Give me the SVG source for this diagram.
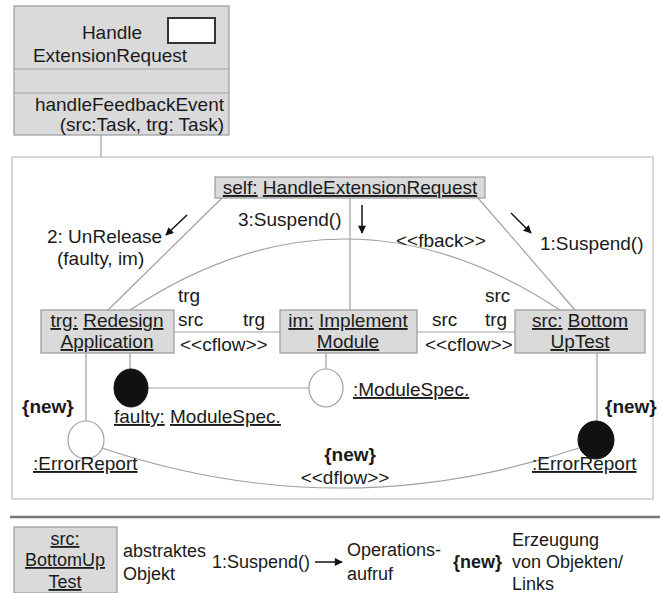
<svg xmlns="http://www.w3.org/2000/svg" width="660" height="593" viewBox="0 0 660 593">
  <style>
    text { font-family: "Liberation Sans", Arial, sans-serif; font-size: 19px; fill: #1a1a1a; }
    .b { font-weight: bold; }
    .u { text-decoration: underline; }
    .mid { text-anchor: middle; }
    .end { text-anchor: end; }
    .sm { font-size: 18px; }
    .box { fill: #dadada; stroke: #9a9a9a; stroke-width: 1.2; }
    .ln { fill: none; stroke: #a0a0a0; stroke-width: 1.2; }
    .msg { fill: none; stroke: #111; stroke-width: 1.5; marker-end: url(#head); }
    .open { fill: #fff; stroke: #a0a0a0; stroke-width: 1.2; }
    .solid { fill: #111; stroke: #111; stroke-width: 1; }
  </style>
  <defs>
    <marker id="head" viewBox="0 0 10 10" refX="9" refY="5" markerWidth="11" markerHeight="8" markerUnits="userSpaceOnUse" orient="auto">
      <path d="M0,0 L10,5 L0,10 Z" fill="#111"/>
    </marker>
  </defs>

  <rect width="660" height="593" fill="#fff"/>

  <!-- class box -->
  <g id="class-handle-extension-request">
    <rect class="box" x="14" y="6" width="215" height="129"/>
    <line class="ln" x1="14" y1="69" x2="229" y2="69"/>
    <line class="ln" x1="14" y1="93" x2="229" y2="93"/>
    <rect x="168" y="18" width="47" height="25" fill="#fff" stroke="#333" stroke-width="2"/>
    <text class="mid" x="112" y="39">Handle</text>
    <text class="mid" x="110" y="62">ExtensionRequest</text>
    <text class="end" x="224" y="111">handleFeedbackEvent</text>
    <text class="end" x="224" y="131">(src:Task, trg: Task)</text>
  </g>

  <!-- collaboration frame -->
  <rect id="frame" x="12" y="157" width="641" height="342" fill="none" stroke="#bdbdbd" stroke-width="1.2"/>

  <g id="connectors">
    <line class="ln" x1="101" y1="135" x2="101" y2="157"/>
    <line class="ln" x1="222" y1="198" x2="108" y2="310"/>
    <line class="ln" x1="350" y1="198" x2="350" y2="310"/>
    <line class="ln" x1="478" y1="198" x2="575" y2="310"/>
    <path class="ln" d="M130,310 Q345,168 560,310"/>
    <line class="ln" x1="174" y1="332" x2="280" y2="332"/>
    <line class="ln" x1="417" y1="332" x2="515" y2="332"/>
    <line class="ln" x1="86" y1="353" x2="86" y2="421"/>
    <line class="ln" x1="130" y1="353" x2="130" y2="369"/>
    <line class="ln" x1="148" y1="388" x2="309" y2="388"/>
    <line class="ln" x1="326" y1="353" x2="326" y2="369"/>
    <line class="ln" x1="597" y1="353" x2="597" y2="421"/>
    <path class="ln" d="M102,448 Q340,528 579,448"/>
    <!-- message arrows -->
    <line class="msg" x1="187" y1="215" x2="166" y2="235"/>
    <line class="msg" x1="362" y1="205" x2="362" y2="233"/>
    <line class="msg" x1="511" y1="213" x2="531" y2="233"/>
  </g>

  <g id="labels">
    <text x="47" y="243">2: UnRelease</text>
    <text x="57" y="265">(faulty, im)</text>
    <text x="238" y="226">3:Suspend()</text>
    <text x="396" y="247">&lt;&lt;fback&gt;&gt;</text>
    <text x="540" y="250">1:Suspend()</text>
    <text x="178" y="302">trg</text>
    <text x="178" y="326">src</text>
    <text x="243" y="326">trg</text>
    <text x="432" y="326">src</text>
    <text x="485" y="326">trg</text>
    <text x="485" y="302">src</text>
    <text x="180" y="351">&lt;&lt;cflow&gt;&gt;</text>
    <text x="425" y="351">&lt;&lt;cflow&gt;&gt;</text>
    <text class="b" x="22" y="413">{new}</text>
    <text class="b" x="605" y="413">{new}</text>
    <text class="b mid" x="350" y="461">{new}</text>
    <text class="mid" x="345" y="484">&lt;&lt;dflow&gt;&gt;</text>
  </g>

  <g id="self">
    <rect class="box" x="215" y="177" width="270" height="21"/>
    <text class="mid" x="350" y="194"><tspan class="u">self:</tspan> <tspan class="u">HandleExtensionRequest</tspan></text>
  </g>

  <g id="redesign-application">
    <rect class="box" x="41" y="310" width="133" height="43"/>
    <text class="mid" x="107" y="327"><tspan class="u">trg:</tspan> <tspan class="u">Redesign</tspan></text>
    <text class="mid u" x="107" y="348">Application</text>
  </g>

  <g id="implement-module">
    <rect class="box" x="280" y="310" width="137" height="43"/>
    <text class="mid" x="348" y="327"><tspan class="u">im:</tspan> <tspan class="u">Implement</tspan></text>
    <text class="mid u" x="348" y="348">Module</text>
  </g>

  <g id="bottom-up-test">
    <rect class="box" x="515" y="310" width="130" height="43"/>
    <text class="mid" x="580" y="327"><tspan class="u">src:</tspan> <tspan class="u">Bottom</tspan></text>
    <text class="mid u" x="580" y="348">UpTest</text>
  </g>

  <g id="faulty-module-spec">
    <ellipse class="solid" cx="131" cy="388" rx="17" ry="19"/>
    <text x="114" y="423"><tspan class="u">faulty:</tspan> <tspan class="u">ModuleSpec.</tspan></text>
  </g>

  <g id="module-spec">
    <ellipse class="open" cx="326" cy="388" rx="17" ry="19"/>
    <text class="u" x="353" y="396">:ModuleSpec.</text>
  </g>

  <g id="error-report-left">
    <ellipse class="open" cx="86" cy="440" rx="18" ry="19"/>
    <text class="u" x="33" y="470">:ErrorReport</text>
  </g>

  <g id="error-report-right">
    <ellipse class="solid" cx="596" cy="440" rx="18" ry="19"/>
    <text class="u" x="532" y="470">:ErrorReport</text>
  </g>

  <!-- legend -->
  <line x1="10" y1="517" x2="660" y2="517" stroke="#777" stroke-width="2.5"/>
  <g id="legend">
    <rect class="box" x="14" y="527" width="103" height="66"/>
    <text class="mid u sm" x="65" y="545">src:</text>
    <text class="mid u sm" x="65" y="566">BottomUp</text>
    <text class="mid u sm" x="65" y="588">Test</text>
    <text class="sm" x="123" y="557">abstraktes</text>
    <text class="sm" x="123" y="580">Objekt</text>
    <text class="sm" x="212" y="568">1:Suspend()</text>
    <line class="msg" x1="315" y1="562" x2="342" y2="562"/>
    <text class="sm" x="347" y="556">Operations-</text>
    <text class="sm" x="347" y="580">aufruf</text>
    <text class="b sm" x="453" y="568">{new}</text>
    <text class="sm" x="512" y="546">Erzeugung</text>
    <text class="sm" x="512" y="568">von Objekten/</text>
    <text class="sm" x="512" y="590">Links</text>
  </g>
</svg>
